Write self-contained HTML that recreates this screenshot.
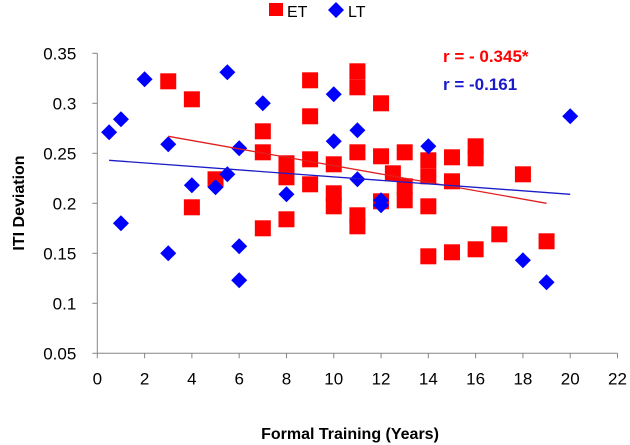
<!DOCTYPE html>
<html><head><meta charset="utf-8"><style>
html,body{margin:0;padding:0;background:#fff;}
svg{display:block;font-family:"Liberation Sans",sans-serif;}
</style></head><body>
<svg id="chart" width="630" height="445" viewBox="0 0 630 445"></svg>
<script>
const xTicks=[0,2,4,6,8,10,12,14,16,18,20,22];
const yTicks=[0.05,0.1,0.15,0.2,0.25,0.3,0.35];
const yTickLabels=["0.05","0.1","0.15","0.2","0.25","0.3","0.35"];
const etX=[3,4,5,4,7,7,7,8,8,8,9,9,9,9,10,10,10,11,11,12,11,11,11,12,12,12.5,13,13,13,14,14,14,14,15,15,15,16,16,16,17,18,19];
const etY=[0.322,0.304,0.224,0.196,0.272,0.251,0.175,0.240,0.226,0.184,0.323,0.287,0.244,0.219,0.239,0.210,0.197,0.332,0.316,0.300,0.251,0.188,0.177,0.247,0.202,0.230,0.251,0.217,0.203,0.243,0.227,0.197,0.147,0.246,0.222,0.151,0.257,0.245,0.154,0.169,0.229,0.162];
const ltX=[0.5,1,1,2,3,3,4,5,5.5,5.5,6,6,6,7,8,10,10,11,11,12,12,14,18,19,20];
const ltY=[0.271,0.284,0.180,0.324,0.259,0.150,0.218,0.216,0.229,0.331,0.255,0.157,0.123,0.300,0.209,0.309,0.262,0.273,0.224,0.203,0.198,0.257,0.143,0.121,0.287];
const etTrendX=[3,19], etTrendY=[0.267,0.200];
const ltTrendX=[0.5,20], ltTrendY=[0.243,0.209];

const NS="http://www.w3.org/2000/svg";
const svg=document.getElementById('chart');
const X0=97.3,X1=617.5,Y0=353.3,Y1=53.3;
const sx=v=>X0+(v-0)/22*(X1-X0);
const sy=v=>Y0-(v-0.05)/0.30*(Y0-Y1);
function mk(t,a){const e=document.createElementNS(NS,t);for(const k in a)e.setAttribute(k,a[k]);svg.appendChild(e);return e;}

let e;
e=mk('line',{x1:X0,y1:Y1,x2:X0,y2:Y0,stroke:'#868686','stroke-width':1});


e=mk('line',{x1:X0,y1:Y0,x2:X1,y2:Y0,stroke:'#868686','stroke-width':1});


yTicks.forEach((v,i)=>{
  const t=mk('line',{x1:X0-5,y1:sy(v),x2:X0,y2:sy(v),stroke:'#868686'});
  
  
  const l=mk('text',{x:X0-21,y:sy(v)+6,'text-anchor':'end','font-size':17,fill:'#000'});
  l.textContent=yTickLabels[i];
  
  
});
xTicks.forEach(v=>{
  const t=mk('line',{x1:sx(v),y1:Y0,x2:sx(v),y2:Y0+5,stroke:'#868686'});
  
  
  const l=mk('text',{x:sx(v),y:Y0+31,'text-anchor':'middle','font-size':17,fill:'#000'});
  l.textContent=String(v);
  
  
});
etX.forEach((v,i)=>{
  const r=mk('rect',{x:sx(v)-8,y:sy(etY[i])-8,width:16,height:16,fill:'#ff0000'});
  
  
});
ltX.forEach((v,i)=>{
  const cx=sx(v),cy=sy(ltY[i]),d=8;
  const p=mk('polygon',{points:`${cx},${cy-d} ${cx+d},${cy} ${cx},${cy+d} ${cx-d},${cy}`,fill:'#0000ff'});
  
  
});
e=mk('line',{x1:sx(etTrendX[0]),y1:sy(etTrendY[0]),x2:sx(etTrendX[1]),y2:sy(etTrendY[1]),stroke:'#e02020','stroke-width':1.3});


e=mk('line',{x1:sx(ltTrendX[0]),y1:sy(ltTrendY[0]),x2:sx(ltTrendX[1]),y2:sy(ltTrendY[1]),stroke:'#1c1cc8','stroke-width':1.3});


</script>
<script>
(function(){
const NS="http://www.w3.org/2000/svg";const svg=document.getElementById('chart');
function t(x,y,s,a,n){const e=document.createElementNS(NS,'text');e.setAttribute('x',x);e.setAttribute('y',y);for(const k in a)e.setAttribute(k,a[k]);e.textContent=s;svg.appendChild(e);return e;}
let e;
e=t(443,62,'r = - 0.345*',{'font-size':17,'font-weight':'bold',fill:'#ff0000'});


e=t(443,90,'r = -0.161',{'font-size':17,'font-weight':'bold',fill:'#1a1acc'});


e=t(350,439,'Formal Training (Years)',{'font-size':16,'font-weight':'bold','text-anchor':'middle'});


e=t(0,0,'ITI Deviation',{'font-size':16,'font-weight':'bold','text-anchor':'middle',transform:'translate(24,203) rotate(-90)'});


const g=document.createElementNS(NS,'g');svg.appendChild(g);


const r=document.createElementNS(NS,'rect');r.setAttribute('x',269);r.setAttribute('y',3);r.setAttribute('width',14);r.setAttribute('height',13);r.setAttribute('fill','#ff0000');g.appendChild(r);


e=t(287,17,'ET',{'font-size':16});g.appendChild(e);


const p=document.createElementNS(NS,'polygon');p.setAttribute('points','336,2 344,10 336,18 328,10');p.setAttribute('fill','#0000ff');g.appendChild(p);


e=t(348,17,'LT',{'font-size':16});g.appendChild(e);


})();
</script>
</body></html>
